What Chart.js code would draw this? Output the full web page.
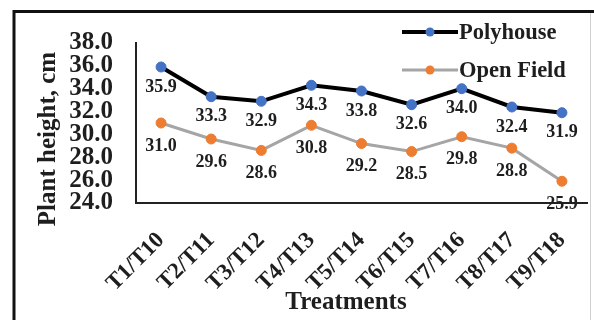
<!DOCTYPE html>
<html>
<head>
<meta charset="utf-8">
<script src="https://cdn.jsdelivr.net/npm/chart.js@4/dist/chart.umd.min.js"></script>
<style>
  html, body { margin: 0; padding: 0; background: #fff; }
  #wrap { width: 594px; height: 320px; }
</style>
</head>
<body>
<div id="wrap"><canvas id="c" width="594" height="320"></canvas></div>
<script>
// Treatment pairs on the x axis
const categories = ['T1/T10', 'T2/T11', 'T3/T12', 'T4/T13', 'T5/T14', 'T6/T15', 'T7/T16', 'T8/T17', 'T9/T18'];
// Plant height (cm) per growing condition
const polyhouse = [35.9, 33.3, 32.9, 34.3, 33.8, 32.6, 34.0, 32.4, 31.9];
const openField = [31.0, 29.6, 28.6, 30.8, 29.2, 28.5, 29.8, 28.8, 25.9];
// Value axis range
const yMin = 24;
const yMax = 38;
const yStep = 2;

const SERIF = '"Liberation Serif", "Times New Roman", serif';
const INK = '#1e1e1e';

// White page with the frame lines around the figure
const framePlugin = {
  id: 'frame',
  beforeDraw(chart) {
    const ctx = chart.ctx;
    ctx.save();
    ctx.fillStyle = '#fff';
    ctx.fillRect(0, 0, chart.width, chart.height);
    ctx.strokeStyle = '#111';
    ctx.lineWidth = 3;
    ctx.beginPath();
    ctx.moveTo(14, 320);
    ctx.lineTo(14, 11.5);
    ctx.lineTo(594, 11.5);
    ctx.stroke();
    ctx.strokeStyle = '#d0d0d0';
    ctx.lineWidth = 1;
    ctx.beginPath();
    ctx.moveTo(590.5, 13);
    ctx.lineTo(590.5, 320);
    ctx.stroke();
    ctx.restore();
  }
};

// Value labels under every point
const valueLabels = {
  id: 'valueLabels',
  afterDatasetsDraw(chart) {
    const ctx = chart.ctx;
    ctx.save();
    ctx.font = 'bold 18px ' + SERIF;
    ctx.fillStyle = INK;
    ctx.textAlign = 'center';
    ctx.textBaseline = 'middle';
    chart.data.datasets.forEach((ds, i) => {
      const meta = chart.getDatasetMeta(i);
      const off = i === 0 ? 20 : 23;
      meta.data.forEach((pt, j) => {
        ctx.fillText(ds.data[j].toFixed(1), pt.x, pt.y + off);
      });
    });
    ctx.restore();
  }
};

// Legend in the upper right and the two axis titles
const decorations = {
  id: 'decorations',
  afterDraw(chart) {
    const ctx = chart.ctx;
    const area = chart.chartArea;
    ctx.save();
    const rows = [32, 70];
    chart.data.datasets.forEach((ds, i) => {
      const y = rows[i];
      ctx.strokeStyle = ds.borderColor;
      ctx.lineWidth = ds.borderWidth;
      ctx.beginPath();
      ctx.moveTo(402, y);
      ctx.lineTo(458, y);
      ctx.stroke();
      ctx.fillStyle = ds.pointBackgroundColor;
      ctx.beginPath();
      ctx.arc(430, y, 4.5, 0, Math.PI * 2);
      ctx.fill();
      ctx.fillStyle = INK;
      ctx.font = 'bold 22.5px ' + SERIF;
      ctx.textAlign = 'left';
      ctx.textBaseline = 'middle';
      ctx.fillText(ds.label, 459, y + 1);
    });

    ctx.font = 'bold 25px ' + SERIF;
    ctx.fillStyle = INK;
    ctx.textAlign = 'center';
    ctx.textBaseline = 'middle';
    ctx.fillText('Treatments', 346, 303);

    ctx.translate(49, (area.top + area.bottom) / 2 + 16);
    ctx.rotate(-Math.PI / 2);
    ctx.fillText('Plant height, cm', 0, 0);
    ctx.restore();
  }
};

new Chart(document.getElementById('c'), {
  type: 'line',
  data: {
    labels: categories,
    datasets: [
      {
        label: 'Polyhouse',
        data: polyhouse,
        borderColor: '#000000',
        borderWidth: 4,
        pointBackgroundColor: '#4472C4',
        pointBorderColor: '#4472C4',
        pointRadius: 5,
        pointBorderWidth: 1,
        tension: 0
      },
      {
        label: 'Open Field',
        data: openField,
        borderColor: '#A5A5A5',
        borderWidth: 3,
        pointBackgroundColor: '#ED7D31',
        pointBorderColor: '#ED7D31',
        pointRadius: 5,
        pointBorderWidth: 1,
        tension: 0
      }
    ]
  },
  options: {
    responsive: false,
    animation: false,
    devicePixelRatio: 1,
    layout: { padding: { left: 16, top: 43, right: 7, bottom: 4 } },
    plugins: {
      legend: { display: false },
      tooltip: { enabled: false }
    },
    scales: {
      x: {
        offset: true,
        grid: { display: false, drawTicks: false },
        border: { display: true, color: '#222', width: 2 },
        ticks: {
          color: INK,
          font: { family: SERIF, size: 23, weight: 'bold' },
          minRotation: 45,
          maxRotation: 45,
          autoSkip: false,
          padding: 24
        },
        afterFit(scale) {
          scale.height = 320 - 4 - 203;
          scale.paddingLeft = 0;
          scale.paddingRight = 0;
        }
      },
      y: {
        min: yMin,
        max: yMax,
        grid: { display: false, drawTicks: false },
        border: { display: true, color: '#222', width: 2 },
        ticks: {
          stepSize: yStep,
          autoSkip: false,
          color: INK,
          font: { family: SERIF, size: 25, weight: 'bold' },
          padding: 23,
          callback: (v) => Number(v).toFixed(1)
        },
        afterFit(scale) {
          scale.width = 136 - 16;
          scale.paddingTop = 0;
          scale.paddingBottom = 0;
        }
      }
    }
  },
  plugins: [framePlugin, valueLabels, decorations]
});
</script>
</body>
</html>
